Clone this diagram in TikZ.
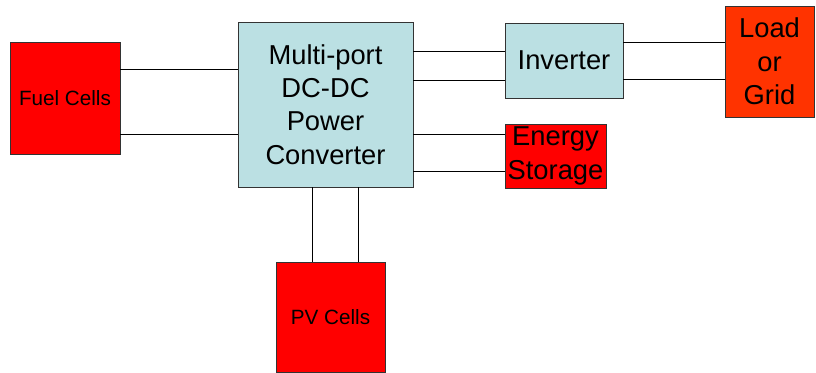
\documentclass[tikz,border=0pt]{standalone}
\usepackage{fontspec}
\setmainfont{Liberation Sans}
\usepackage{xcolor}
\usepackage{tikz}
\usetikzlibrary{positioning}
\definecolor{convblue}{HTML}{BBE0E3}
\definecolor{srcred}{HTML}{FF0000}
\definecolor{gridred}{HTML}{FF3300}

\begin{document}
\begin{tikzpicture}[
x=0.75pt, y=-0.75pt,
box/.style={
rectangle,
draw=black!80,
line width=0.7pt,
inner sep=0pt,
align=center
},
bigtext/.style={font=\fontsize{20.5}{25}\selectfont},
bluebox/.style={box, fill=convblue, bigtext},
redbox/.style={box, fill=srcred},
wire/.style={line width=0.7pt}
]

\useasboundingbox (0,0) rectangle (816,373);

\node[redbox, minimum width=82.5pt, minimum height=84pt,
font=\fontsize{15.5}{19}\selectfont] (fuel) at (65,98) {Fuel Cells};
\node[bluebox, minimum width=131.25pt, minimum height=123.75pt] (conv) at (325.5,104.5)
{Multi-port\\DC-DC\\Power\\Converter};
\node[bluebox, minimum width=88.5pt, minimum height=56.25pt] (inv) at (564,60.5) {Inverter};
\node[box, fill=gridred, bigtext, minimum width=66.75pt, minimum height=83.25pt]
(load) at (769.5,61.5) {Load\\or\\Grid};
\node[redbox, bigtext, minimum width=75.75pt, minimum height=48pt]
(storage) at (555.5,156) {Energy\\Storage};
\node[redbox, minimum width=81.75pt, minimum height=82.5pt,
font=\fontsize{15.5}{19}\selectfont] (pv) at (330.5,317) {PV Cells};

\draw[wire] (fuel.east |- 0,69) -- (conv.west |- 0,69);
\draw[wire] (fuel.east |- 0,134) -- (conv.west |- 0,134);
\draw[wire] (conv.east |- 0,51) -- (inv.west |- 0,51);
\draw[wire] (conv.east |- 0,80) -- (inv.west |- 0,80);
\draw[wire] (inv.east |- 0,42) -- (load.west |- 0,42);
\draw[wire] (inv.east |- 0,79) -- (load.west |- 0,79);
\draw[wire] (conv.east |- 0,134) -- (storage.west |- 0,134);
\draw[wire] (conv.east |- 0,171) -- (storage.west |- 0,171);
\draw[wire] (conv.south -| 312,0) -- (pv.north -| 312,0);
\draw[wire] (conv.south -| 358,0) -- (pv.north -| 358,0);

\end{tikzpicture}
\end{document}
